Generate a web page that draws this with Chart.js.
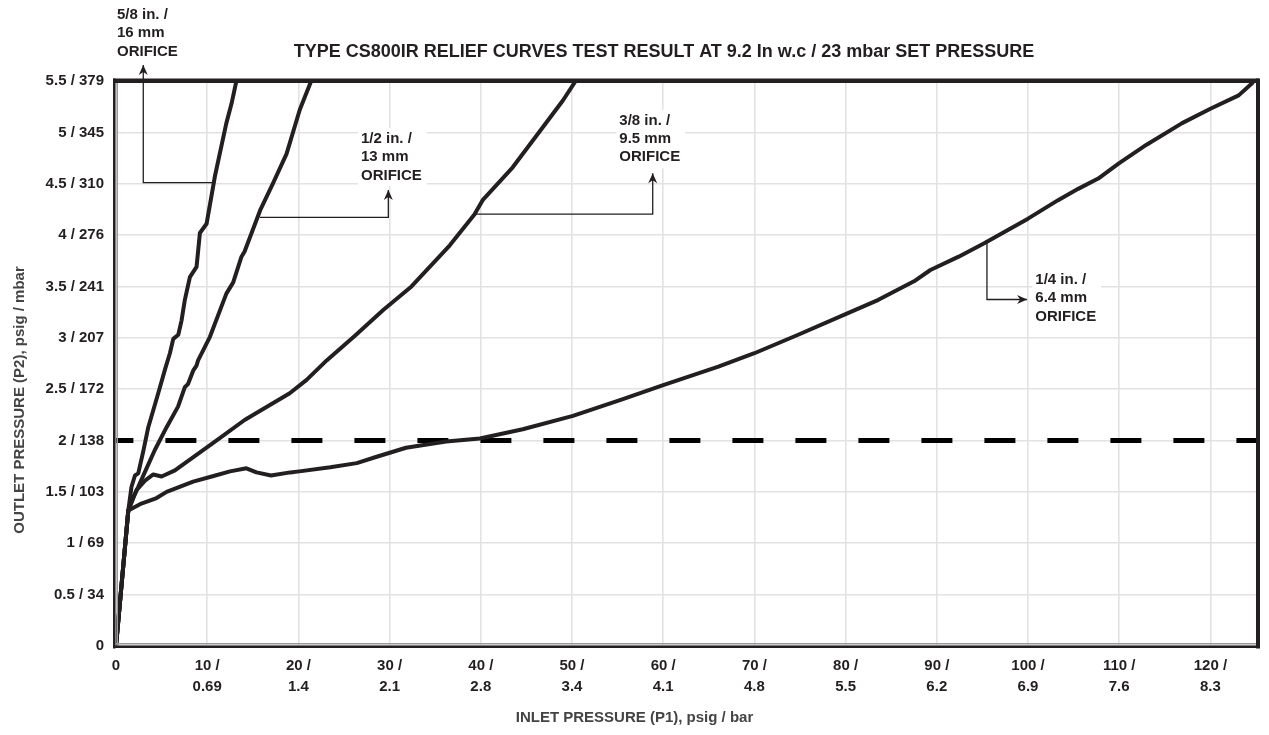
<!DOCTYPE html>
<html>
<head>
<meta charset="utf-8">
<script src="https://cdn.jsdelivr.net/npm/chart.js@4.4.0/dist/chart.umd.min.js"></script>
<style>
    html, body { margin: 0; padding: 0; background: #fff; }
</style>
</head>
<body>
<canvas id="reliefChart" width="1269" height="735"></canvas>
<script>
// tick labels: psig with bar / mbar equivalents
var xTickPsig = [0, 10, 20, 30, 40, 50, 60, 70, 80, 90, 100, 110, 120];
var xTickBar = ['', '0.69', '1.4', '2.1', '2.8', '3.4', '4.1', '4.8', '5.5', '6.2', '6.9', '7.6', '8.3'];
var yTickPsig = ['0', '0.5', '1', '1.5', '2', '2.5', '3', '3.5', '4', '4.5', '5', '5.5'];
var yTickMbar = ['', '34', '69', '103', '138', '172', '207', '241', '276', '310', '345', '379'];

var setPressure = 2;

// 5/8 in. / 16 mm orifice
var orifice58X = [0, 1.35, 1.7, 2.08, 2.44, 3.0, 3.54, 4.63, 5.4, 5.91, 6.28, 6.83, 7.19, 7.55, 8.1, 8.83, 9.2, 9.93, 10.84, 12.1, 12.67, 13.2];
var orifice58Y = [0, 1.32, 1.55, 1.66, 1.68, 1.9, 2.13, 2.46, 2.7, 2.85, 2.99, 3.03, 3.17, 3.37, 3.59, 3.69, 4.02, 4.11, 4.57, 5.09, 5.28, 5.5];

// 1/2 in. / 13 mm orifice
var orifice12X = [0, 1.35, 1.9, 2.44, 3.3, 4.27, 5.55, 6.8, 7.55, 7.9, 8.46, 8.83, 9.0, 10.3, 12.1, 12.85, 13.76, 14.1, 15.8, 17.2, 18.7, 20.15, 21.4];
var orifice12Y = [0, 1.32, 1.45, 1.55, 1.72, 1.91, 2.13, 2.33, 2.52, 2.55, 2.68, 2.73, 2.78, 3.01, 3.43, 3.54, 3.79, 3.84, 4.24, 4.5, 4.79, 5.22, 5.5];

// 3/8 in. / 9.5 mm orifice
var orifice38X = [0, 1.35, 2.27, 3.18, 4.09, 5.0, 6.46, 11.0, 14.1, 19.05, 20.9, 23.1, 26.2, 29.3, 32.4, 36.6, 39.3, 40.2, 43.5, 46.8, 49.0, 50.4];
var orifice38Y = [0, 1.32, 1.52, 1.61, 1.67, 1.65, 1.71, 2.0, 2.2, 2.46, 2.59, 2.78, 3.02, 3.27, 3.5, 3.9, 4.2, 4.34, 4.66, 5.05, 5.31, 5.5];

// 1/4 in. / 6.4 mm orifice
var orifice14X = [0, 1.35, 2.63, 4.45, 5.55, 8.46, 10.5, 12.5, 14.3, 15.4, 17.0, 19.1, 20.1, 23.5, 26.4, 28.5, 31.8, 36.2, 39.9, 44.6, 50.1, 55.5, 60, 66.05, 70, 74.8, 80, 83.6, 87.5, 89.3, 92.4, 95.2, 100, 103.3, 105.5, 107.7, 110, 113, 116.9, 120, 123.1, 124.6];
var orifice14Y = [0, 1.32, 1.38, 1.44, 1.5, 1.6, 1.65, 1.7, 1.73, 1.69, 1.66, 1.69, 1.7, 1.74, 1.78, 1.84, 1.93, 1.99, 2.02, 2.11, 2.24, 2.4, 2.54, 2.72, 2.85, 3.03, 3.23, 3.37, 3.55, 3.66, 3.79, 3.92, 4.16, 4.34, 4.45, 4.55, 4.7, 4.88, 5.09, 5.23, 5.36, 5.48];

// callouts
var noteText = [
    ['5/8 in. /', '16 mm', 'ORIFICE'],
    ['1/2 in. /', '13 mm', 'ORIFICE'],
    ['3/8 in. /', '9.5 mm', 'ORIFICE'],
    ['1/4 in. /', '6.4 mm', 'ORIFICE']
];
// leader: point on curve -> elbow -> arrow tip (psig, psig)
var notePath = [
    [[10.67, 4.51], [2.99, 4.51], [2.99, 5.655]],
    [[15.79, 4.173], [29.86, 4.173], [29.86, 4.439]],
    [[39.36, 4.205], [58.85, 4.205], [58.85, 4.601]],
    [[95.5, 3.92], [95.5, 3.373], [99.9, 3.373]]
];
// left edge / first line of each callout text
var noteAt = [[0.11, 6.142], [26.86, 4.935], [55.19, 5.113], [100.8, 3.564]];

var FONT = "'Liberation Sans', Arial, Helvetica, sans-serif";
var INK = '#231f20';

function pairs(xs, ys) {
    return xs.map(function (x, i) { return { x: x, y: ys[i] }; });
}

function curve(label, xs, ys) {
    return {
        label: label,
        data: pairs(xs, ys),
        borderColor: INK,
        borderWidth: 4,
        pointRadius: 0,
        tension: 0,
        borderJoinStyle: 'round',
        borderCapStyle: 'round',
        fill: false
    };
}

var extras = {
    id: 'extras',
    beforeDatasetsDraw: function (chart) {
        // white boxes behind the callout text
        var ctx = chart.ctx;
        var xs = chart.scales.x, ys = chart.scales.y;
        ctx.save();
        ctx.font = 'bold 15px ' + FONT;
        ctx.fillStyle = '#fff';
        noteText.forEach(function (lines, i) {
            var w = 0;
            lines.forEach(function (t) { w = Math.max(w, ctx.measureText(t).width); });
            var lx = xs.getPixelForValue(noteAt[i][0]);
            var ly = ys.getPixelForValue(noteAt[i][1]);
            ctx.fillRect(lx - 3, ly - 11, w + 8, 18.3 * 2 + 22);
        });
        ctx.restore();
    },
    afterDatasetsDraw: function (chart) {
        var ctx = chart.ctx;
        var xs = chart.scales.x, ys = chart.scales.y;
        ctx.save();
        // leaders with arrow heads
        ctx.strokeStyle = INK;
        ctx.fillStyle = INK;
        ctx.lineWidth = 1.3;
        notePath.forEach(function (path) {
            var pts = path.map(function (p) {
                return [xs.getPixelForValue(p[0]), ys.getPixelForValue(p[1])];
            });
            ctx.beginPath();
            ctx.moveTo(pts[0][0], pts[0][1]);
            for (var k = 1; k < pts.length; k++) ctx.lineTo(pts[k][0], pts[k][1]);
            ctx.stroke();
            var a = pts[pts.length - 2], b = pts[pts.length - 1];
            var ang = Math.atan2(b[1] - a[1], b[0] - a[0]);
            ctx.beginPath();
            ctx.moveTo(b[0], b[1]);
            ctx.lineTo(b[0] - 10 * Math.cos(ang) + 4.5 * Math.sin(ang), b[1] - 10 * Math.sin(ang) - 4.5 * Math.cos(ang));
            ctx.lineTo(b[0] - 7 * Math.cos(ang), b[1] - 7 * Math.sin(ang));
            ctx.lineTo(b[0] - 10 * Math.cos(ang) - 4.5 * Math.sin(ang), b[1] - 10 * Math.sin(ang) + 4.5 * Math.cos(ang));
            ctx.closePath();
            ctx.fill();
        });
        // callout text
        ctx.font = 'bold 15px ' + FONT;
        ctx.textAlign = 'left';
        ctx.textBaseline = 'middle';
        noteText.forEach(function (lines, i) {
            var lx = xs.getPixelForValue(noteAt[i][0]);
            var ly = ys.getPixelForValue(noteAt[i][1]);
            lines.forEach(function (t, j) { ctx.fillText(t, lx, ly + j * 18.3); });
        });
        ctx.restore();
    },
    afterDraw: function (chart) {
        var ctx = chart.ctx;
        var a = chart.chartArea;
        ctx.save();
        // plot frame
        ctx.fillStyle = '#9a9a9a';
        ctx.fillRect(a.left + 0.5, a.top, 1.5, a.bottom - a.top);
        ctx.fillRect(a.left, a.bottom - 3, a.right - a.left, 1.5);
        ctx.fillStyle = INK;
        ctx.fillRect(a.left - 3, a.top - 2.5, a.right - a.left + 6, 4.5);
        ctx.fillRect(a.right, a.top - 2.5, 4, a.bottom - a.top + 5);
        ctx.fillRect(a.left - 3, a.top - 2.5, 2.5, a.bottom - a.top + 5);
        ctx.fillRect(a.left - 3, a.bottom - 0.5, a.right - a.left + 7, 2.5);

        // titles
        ctx.fillStyle = INK;
        ctx.textAlign = 'center';
        ctx.textBaseline = 'middle';
        ctx.font = 'bold 18px ' + FONT;
        ctx.fillText('TYPE CS800IR RELIEF CURVES TEST RESULT AT 9.2 In w.c / 23 mbar SET PRESSURE', 664, 52);
        ctx.fillStyle = '#444';
        ctx.font = 'bold 15px ' + FONT;
        ctx.fillText('INLET PRESSURE (P1), psig / bar', chart.width / 2, 718);
        ctx.translate(20, 400);
        ctx.rotate(-Math.PI / 2);
        ctx.fillText('OUTLET PRESSURE (P2), psig / mbar', 0, 0);
        ctx.restore();
    }
};

var ctx = document.getElementById('reliefChart').getContext('2d');
var reliefChart = new Chart(ctx, {
    type: 'line',
    data: {
        datasets: [
            curve('5/8 in. / 16 mm', orifice58X, orifice58Y),
            curve('1/2 in. / 13 mm', orifice12X, orifice12Y),
            curve('3/8 in. / 9.5 mm', orifice38X, orifice38Y),
            curve('1/4 in. / 6.4 mm', orifice14X, orifice14Y),
            {
                label: 'Set pressure',
                data: [{ x: 0, y: setPressure }, { x: 125, y: setPressure }],
                borderColor: '#000',
                borderWidth: 5,
                borderDash: [31, 32],
                borderDashOffset: 13.6,
                borderCapStyle: 'butt',
                pointRadius: 0,
                fill: false
            }
        ]
    },
    options: {
        responsive: false,
        animation: false,
        devicePixelRatio: 1,
        layout: { padding: { top: 81, right: 13, left: 0, bottom: 0 } },
        scales: {
            x: {
                type: 'linear',
                min: 0,
                max: 125,
                afterFit: function (scale) { scale.height = 89; },
                grid: { color: '#e2e2e2', lineWidth: 1.6, drawTicks: false },
                border: { display: false },
                ticks: {
                    stepSize: 10,
                    includeBounds: false,
                    autoSkip: false,
                    maxRotation: 0,
                    minRotation: 0,
                    padding: 9,
                    color: INK,
                    font: { family: FONT, size: 15, weight: 'bold', lineHeight: 1.4 },
                    callback: function (value) {
                        var i = xTickPsig.indexOf(value);
                        if (i < 0) return '';
                        return xTickBar[i] ? [value + ' /', xTickBar[i]] : String(value);
                    }
                }
            },
            y: {
                type: 'linear',
                min: 0,
                max: 5.5,
                afterFit: function (scale) { scale.width = 116; },
                grid: { color: '#e2e2e2', lineWidth: 1.6, drawTicks: false },
                border: { display: false },
                ticks: {
                    stepSize: 0.5,
                    padding: 12,
                    color: INK,
                    font: { family: FONT, size: 15, weight: 'bold' },
                    callback: function (value) {
                        var i = Math.round(value * 2);
                        if (!yTickPsig[i]) return '';
                        return yTickMbar[i] ? yTickPsig[i] + ' / ' + yTickMbar[i] : yTickPsig[i];
                    }
                }
            }
        },
        plugins: {
            legend: { display: false },
            tooltip: { enabled: false },
            title: { display: false }
        }
    },
    plugins: [extras]
});
</script>
</body>
</html>
